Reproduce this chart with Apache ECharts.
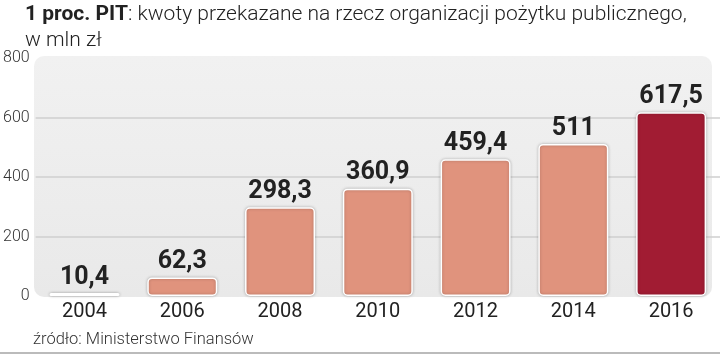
<!DOCTYPE html>
<html><head><meta charset="utf-8">
<script src="https://cdn.jsdelivr.net/npm/echarts@6/dist/echarts.min.js"></script>
<style>html,body{margin:0;padding:0;background:#fff}#c{width:720px;height:354px}</style>
</head><body><div id="c"></div>
<script>
const categories = ['2004','2006','2008','2010','2012','2014','2016'];
const values = [10.4, 62.3, 298.3, 360.9, 459.4, 511, 617.5];
const yTicks = [0, 200, 400, 600, 800];
const highlightIndex = 6;

const FONT = 'Roboto';
const chart = echarts.init(document.getElementById('c'), null, {renderer:'canvas'});
chart.setOption({
  animation: false,
  backgroundColor: '#fff',
  graphic: [
    { type: 'rect', z: -10, shape: { x: 34, y: 56, width: 678, height: 241, r: 10 },
      style: { fill: new echarts.graphic.LinearGradient(0,0,0,1,[{offset:0,color:'#f1f1f1'},{offset:1,color:'#e9e9e9'}]) } },
    { type: 'text', x: 25, y: 4, style: {
        text: '{b|1 proc. PIT}{n|: kwoty przekazane na rzecz organizacji pożytku publicznego,}',
        align: 'left', verticalAlign: 'top',
        rich: {
          b: { fontFamily: FONT, fontSize: 21, fontWeight: 'bold', fill: '#222' },
          n: { fontFamily: FONT, fontSize: 21, fontWeight: 300, fill: '#222' }
        } } },
    { type: 'text', x: 25, y: 30, style: { text: 'w mln zł', align: 'left', verticalAlign: 'top', fontFamily: FONT, fontSize: 21, fontWeight: 300, fill: '#222' } },
    { type: 'text', x: 33, y: 331, style: { text: 'źródło: Ministerstwo Finansów', align: 'left', verticalAlign: 'top', fontFamily: FONT, fontSize: 16.5, fontWeight: 300, fill: '#333' } },
    { type: 'rect', shape: { x: 0, y: 352, width: 720, height: 2 }, style: { fill: '#bbb' } }
  ],
  grid: { left: 35, right: 0, top: 58, bottom: 58, containLabel: false },
  xAxis: {
    type: 'category', data: categories,
    axisLine: { show: false }, axisTick: { show: false },
    axisLabel: { fontFamily: FONT, fontSize: 20, color: '#222', margin: 6 }
  },
  yAxis: {
    type: 'value', min: yTicks[0], max: yTicks[yTicks.length-1], interval: 200,
    axisLine: { show: false }, axisTick: { show: false },
    axisLabel: { fontFamily: FONT, fontSize: 16, fontWeight: 300, color: '#333', margin: 6 },
    splitLine: { show: true, showMinLine: false, showMaxLine: false, lineStyle: { color: '#cfcfcf', width: 1.5 } }
  },
  series: [{
    type: 'bar', barWidth: 70,
    data: values.map((v, i) => ({
      value: v,
      itemStyle: { color: i === 0 ? '#fafafa' : (i === highlightIndex ? '#a11c33' : '#e0937d') }
    })),
    itemStyle: { borderColor: '#fff', borderWidth: 1.5, borderRadius: 4, shadowBlur: 3, shadowColor: 'rgba(0,0,0,0.25)' },
    label: {
      show: true, position: 'top', distance: 3,
      formatter: p => String(p.value).replace('.', ','),
      fontFamily: FONT, fontSize: 25, fontWeight: 'bold', color: '#222'
    }
  }]
});
</script></body></html>
